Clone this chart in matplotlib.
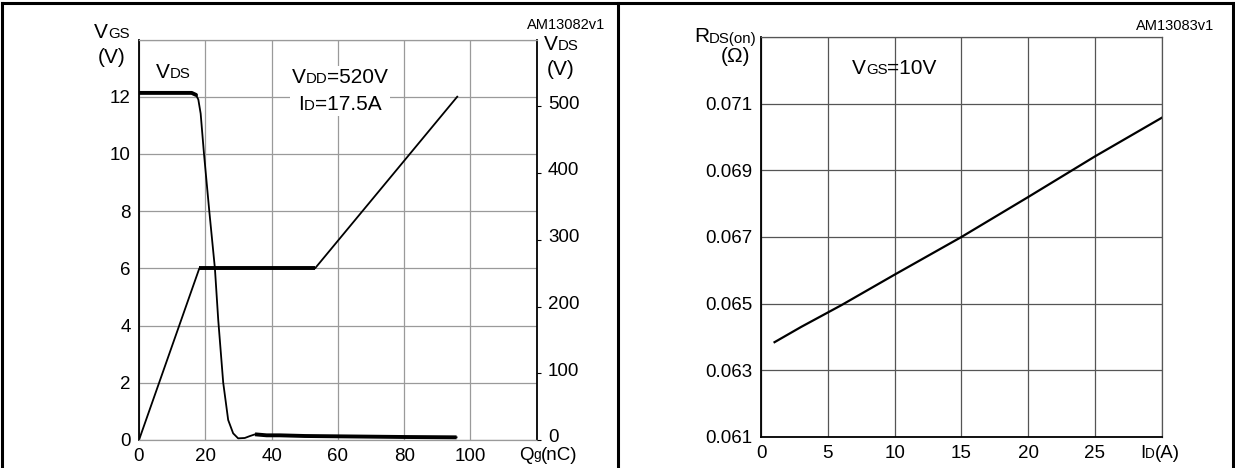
import matplotlib
matplotlib.use("Agg")
from matplotlib import pyplot as plt
from matplotlib.lines import Line2D
from matplotlib.offsetbox import TextArea, HPacker, VPacker, AnnotationBbox
from matplotlib.transforms import ScaledTranslation
import numpy as np

plt.rcParams['font.family'] = ['Liberation Sans', 'DejaVu Sans']

# gate charge chart
vgs_q = [0, 18.2, 53.1, 96]
vgs_v = [0, 6, 6, 12]

vds_q = [0, 8, 15.9, 17.2, 17.9, 18.6, 19.6, 21.2, 22.9, 23.9, 25.4, 26.9,
         28.4, 29.9, 31.9, 33.5, 35, 38.5, 42.5, 50, 60, 70, 80, 95.8]
vds_v = [520, 520, 520, 517, 510, 489, 429, 343, 257, 180, 86, 30,
         10, 2.5, 3, 6, 8.5, 7, 7, 6, 5.5, 5, 4.5, 4]

qg_ticks = [0, 20, 40, 60, 80, 100]
vgs_ticks = [0, 2, 4, 6, 8, 10, 12]
vds_ticks = [0, 100, 200, 300, 400, 500]

# on-resistance vs drain current
id_a = [1, 3, 6, 10, 15, 20, 25, 30]
rds_on = [0.06384, 0.06430, 0.06495, 0.06587, 0.06700, 0.06820, 0.06942, 0.07058]

id_ticks = [0, 5, 10, 15, 20, 25]
r_ticks = [0.061, 0.063, 0.065, 0.067, 0.069, 0.071]

W, H = 1235, 468
fig = plt.figure(figsize=(W / 100, H / 100), dpi=100)
fs = 13.5


def box(px_left, px_top, px_right, px_bottom):
    return [px_left / W, 1 - px_bottom / H, (px_right - px_left) / W, (px_bottom - px_top) / H]


def rich(parts, size):
    # parts: list of (text, is_small); small parts sit on the same baseline
    areas = []
    for t, small in parts:
        areas.append(TextArea(t, textprops=dict(size=size * 0.72 if small else size)))
    return HPacker(children=areas, align='baseline', pad=0, sep=0)


def place(child, x, y, align=(0.5, 0.5), white=False):
    ab = AnnotationBbox(child, (x, H - y), xycoords='figure pixels', box_alignment=align,
                        frameon=white, pad=0.15, zorder=5,
                        bboxprops=dict(facecolor='white', edgecolor='none'))
    fig.add_artist(ab)


# ---- left panel
ax = fig.add_axes(box(139, 39.5, 536.8, 440))
ax.plot(vgs_q, vgs_v, c='black', lw=1.3)
pq = [q for q, v in zip(vgs_q, vgs_v) if v == 6]
ax.plot(pq, [6] * len(pq), c='black', lw=2.8, solid_capstyle='butt')
ax.set_xlim(0, 120)
ax.set_ylim(0, 14)
ax.set_xticks(qg_ticks + [120])
ax.set_xticklabels([str(t) for t in qg_ticks] + [''])
ax.set_yticks(vgs_ticks + [14])
ax.set_yticklabels([str(t) for t in vgs_ticks] + [''])
ax.grid(True, color='#9a9a9a', lw=0.9)
ax.tick_params(axis='both', length=0, labelsize=fs, pad=6)
for s in ['top', 'bottom']:
    ax.spines[s].set_color('#9a9a9a')
    ax.spines[s].set_linewidth(0.9)
for s in ['left', 'right']:
    ax.spines[s].set_color('black')
    ax.spines[s].set_linewidth(1.3)

ax2 = ax.twinx()
ax2.plot(vds_q, vds_v, c='black', lw=1.3)
vq = np.array(vds_q)
vv = np.array(vds_v)
ax2.plot(vq[vq <= 17.2], vv[vq <= 17.2], c='black', lw=2.8, solid_capstyle='round')
ax2.plot(vq[vq >= 35], vv[vq >= 35], c='black', lw=2.8, solid_capstyle='butt')
ax2.set_ylim(0, 600)
ax2.set_yticks(vds_ticks)
ax2.tick_params(axis='y', length=3, direction='out', labelsize=fs, pad=5)
for lbl in ax2.get_yticklabels():
    lbl.set_transform(lbl.get_transform() + ScaledTranslation(0, 4 / 100, fig.dpi_scale_trans))
for s in ax2.spines.values():
    s.set_visible(False)

fs2 = 15
place(rich([('V', False), ('DS', True)], fs2), 173, 73)
place(VPacker(children=[rich([('V', False), ('DD', True), ('=520V', False)], fs2),
                        rich([('I', False), ('D', True), ('=17.5A', False)], fs2)],
              align='center', pad=0, sep=6), 340, 91, white=True)
place(VPacker(children=[rich([('V', False), ('GS', True)], fs2), TextArea('(V)', textprops=dict(size=fs2))],
              align='center', pad=0, sep=4), 112, 45)
place(VPacker(children=[rich([('V', False), ('DS', True)], fs2), TextArea('(V)', textprops=dict(size=fs2))],
              align='center', pad=0, sep=4), 561, 57)
fig.text(566 / W, 1 - 25 / H, 'AM13082v1', fontsize=10.5, ha='center', va='center')
place(rich([('Q', False), ('g', True), ('(nC)', False)], fs), 548, 455)

# ---- right panel
bx = fig.add_axes(box(761.2, 37.3, 1161.6, 436.7))
bx.plot(id_a, rds_on, c='black', lw=1.6)
bx.set_xlim(0, 30)
bx.set_ylim(0.061, 0.073)
bx.set_xticks(id_ticks + [30])
bx.set_xticklabels([str(t) for t in id_ticks] + [''])
bx.set_yticks(r_ticks + [0.073])
bx.set_yticklabels([str(t) for t in r_ticks] + [''])
bx.grid(True, color='#555555', lw=0.9)
bx.tick_params(axis='both', length=0, labelsize=fs, pad=6)
for s in ['top', 'right']:
    bx.spines[s].set_color('#555555')
    bx.spines[s].set_linewidth(0.9)
for s in ['left', 'bottom']:
    bx.spines[s].set_color('black')
    bx.spines[s].set_linewidth(1.3)

place(rich([('V', False), ('GS', True), ('=10V', False)], fs2), 852, 69, align=(0, 0.5))
place(rich([('R', False), ('DS(on)', True)], fs2), 757, 37, align=(1, 0.5))
place(TextArea('(Ω)', textprops=dict(size=fs2)), 735, 57)
fig.text(1175 / W, 1 - 26 / H, 'AM13083v1', fontsize=10.5, ha='center', va='center')
place(rich([('I', False), ('D', True), ('(A)', False)], fs), 1160, 453)

# frame around the two panels
for xs, ys in [([2, 2], [3, H]), ([2, W - 2], [3, 3]), ([618, 618], [3, H]),
               ([W - 2, W - 2], [3, H])]:
    fig.add_artist(Line2D([x / W for x in xs], [1 - y / H for y in ys], c='black', lw=2.2))

fig.savefig('out.png', dpi=100)
